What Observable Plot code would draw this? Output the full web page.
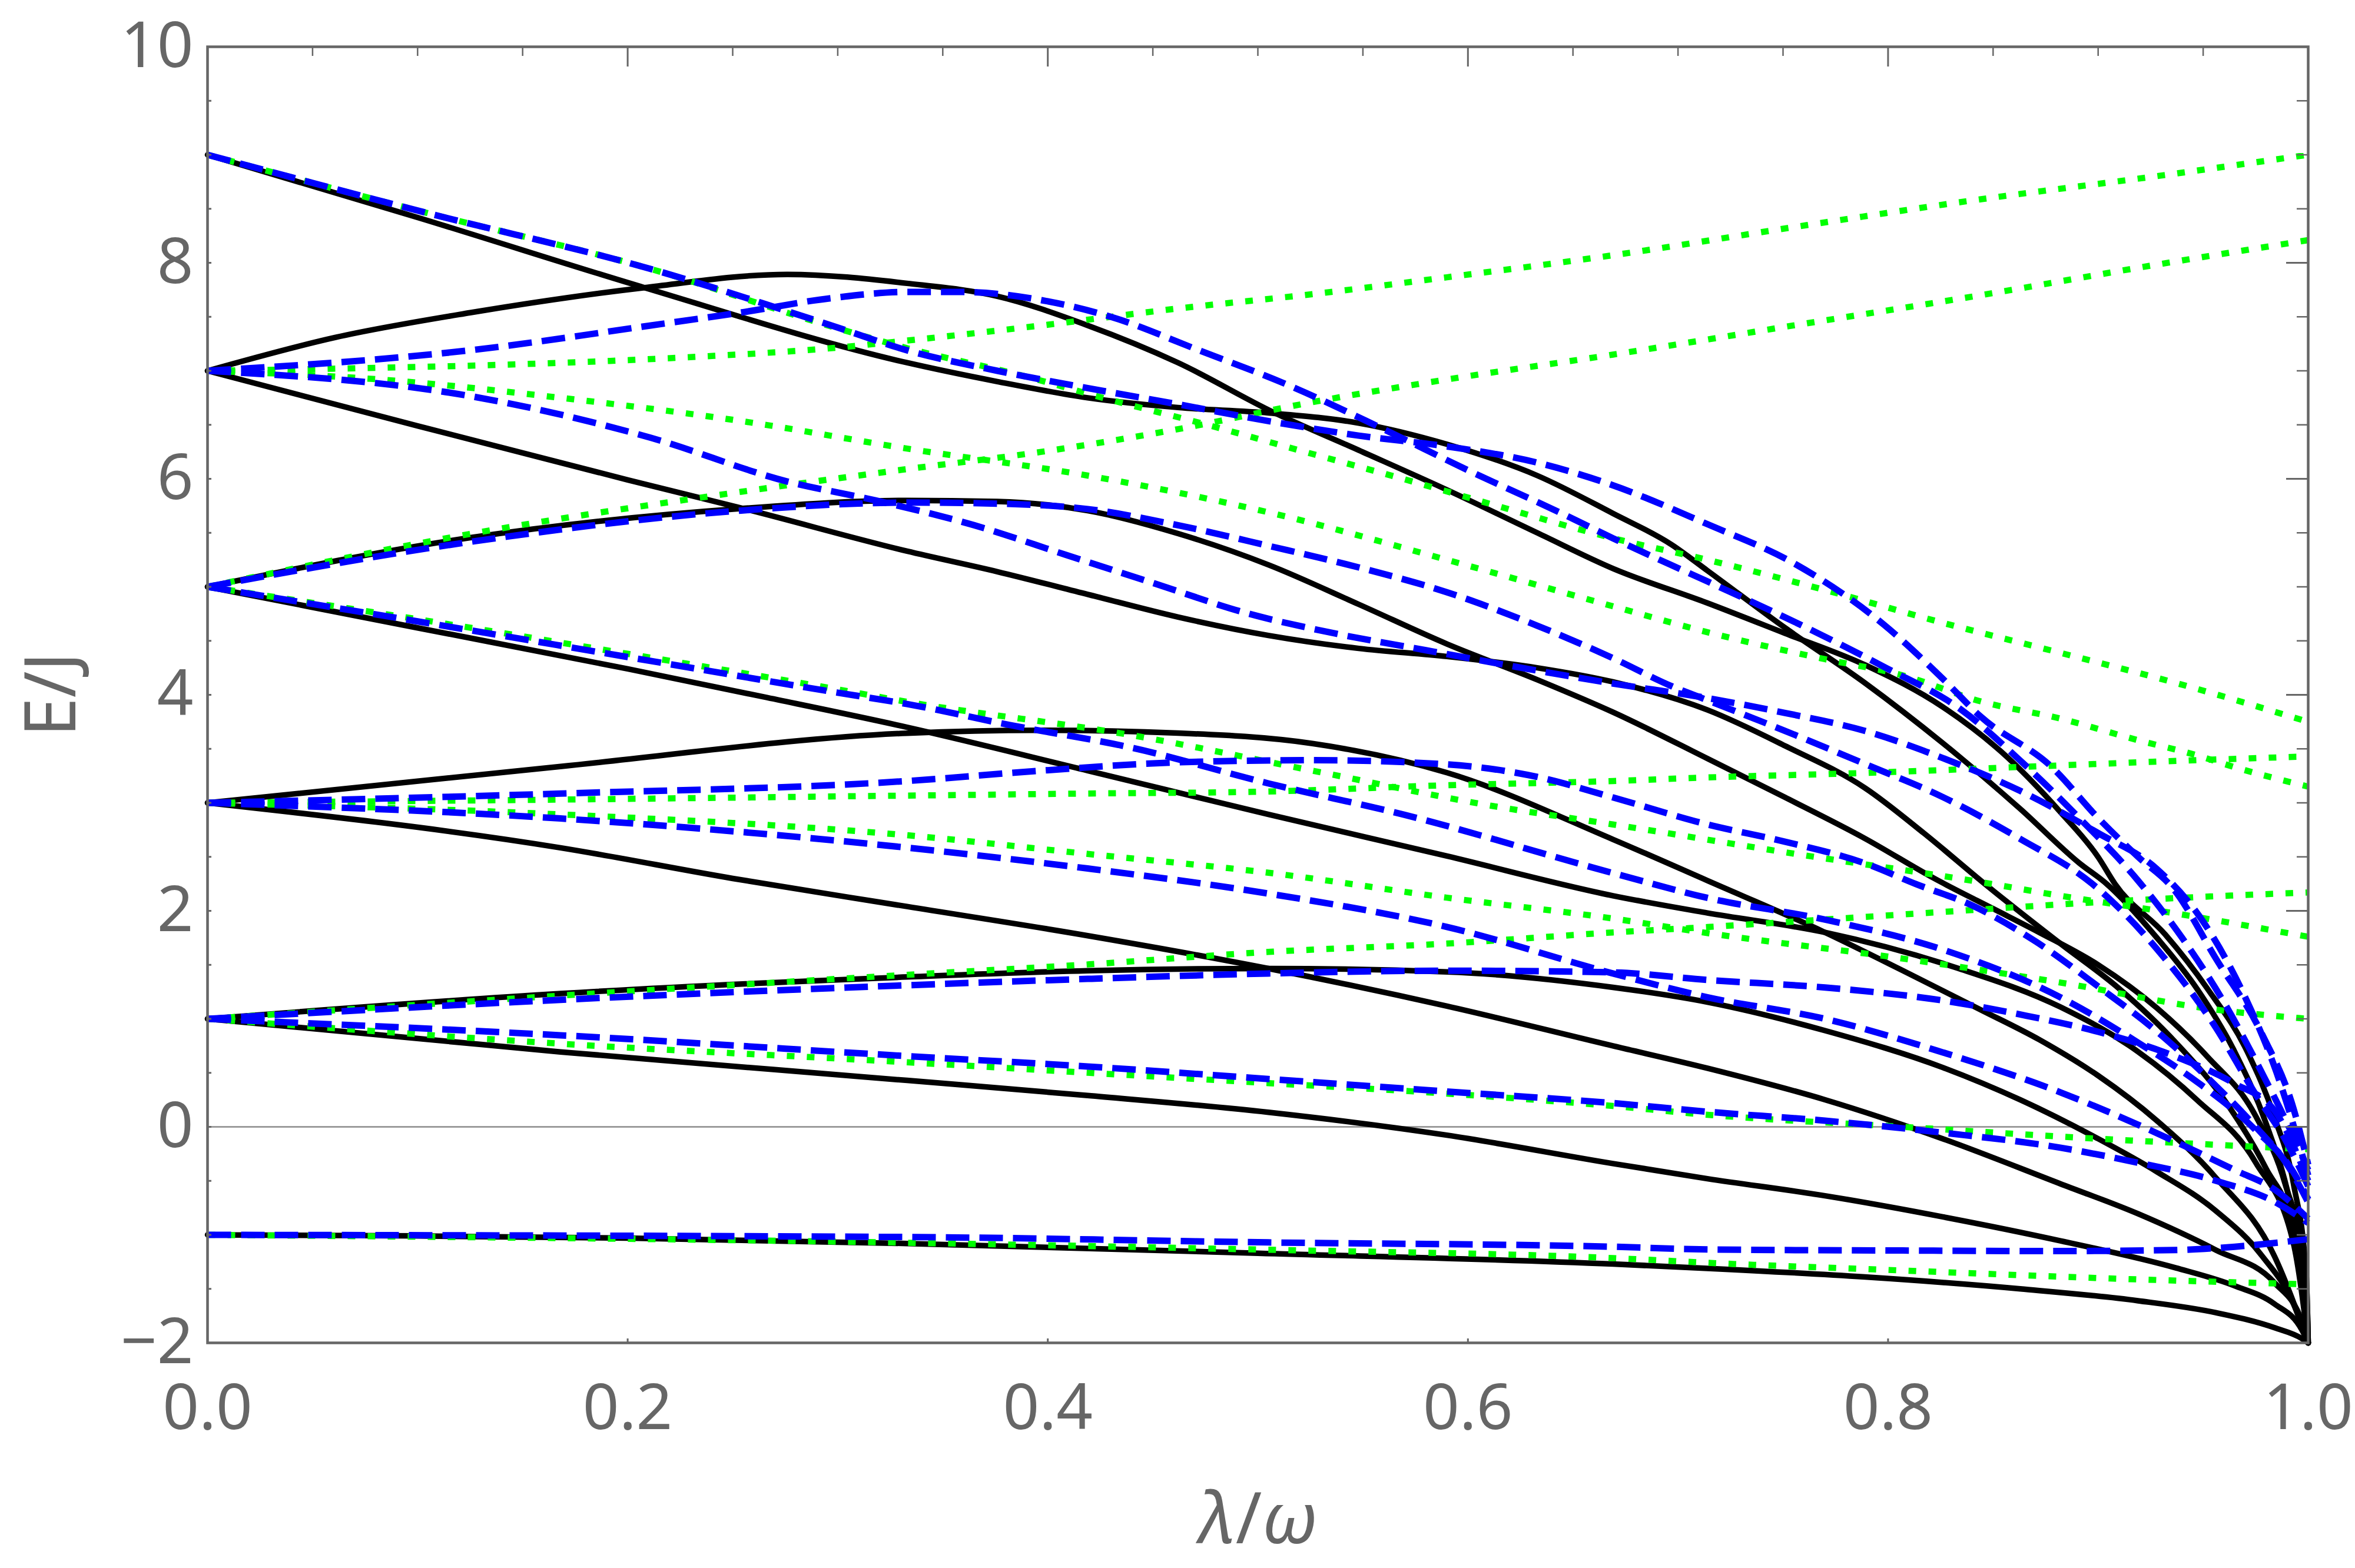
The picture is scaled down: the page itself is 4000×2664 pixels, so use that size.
<!DOCTYPE html>
<html><head><meta charset="utf-8">
<script src="https://cdn.jsdelivr.net/npm/d3@7"></script>
<script src="https://cdn.jsdelivr.net/npm/@observablehq/plot@0.6"></script>
<style>html,body{margin:0;padding:0;background:#fff;}</style>
</head><body><div id="chart"></div>
<script>
// ---- exact spectrum (black, solid) : [lambda/omega, E/J] ----
const K1 = [[0,-1],[0.1,-1.01],[0.2,-1.03],[0.333,-1.08],[0.5,-1.17],[0.669,-1.27],[0.714,-1.31],[0.789,-1.39],[0.863,-1.5],[0.919,-1.61],[0.956,-1.72],[0.984,-1.86],[0.997,-1.96],[1,-2]];
const K2 = [[0,1],[0.168,0.694],[0.333,0.43],[0.419,0.29],[0.505,0.135],[0.59,-0.077],[0.669,-0.34],[0.714,-0.48],[0.77,-0.638],[0.826,-0.833],[0.882,-1.055],[0.937,-1.306],[0.965,-1.472],[0.984,-1.64],[0.997,-1.88],[1,-2]];
const K3 = [[0,1],[0.168,1.234],[0.333,1.388],[0.419,1.446],[0.505,1.466],[0.59,1.435],[0.669,1.292],[0.714,1.155],[0.77,0.891],[0.826,0.55],[0.863,0.25],[0.9,-0.11],[0.928,-0.416],[0.956,-0.777],[0.978,-1.194],[0.993,-1.64],[1,-2]];
const K4 = [[0,3],[0.168,2.584],[0.25,2.3],[0.333,2.04],[0.419,1.77],[0.505,1.466],[0.59,1.118],[0.669,0.75],[0.714,0.543],[0.77,0.251],[0.826,-0.11],[0.882,-0.527],[0.919,-0.805],[0.956,-1.14],[0.984,-1.444],[0.997,-1.8],[1,-2]];
const K5 = [[0,3],[0.168,3.337],[0.333,3.645],[0.397,3.672],[0.462,3.646],[0.526,3.549],[0.59,3.279],[0.669,2.662],[0.714,2.28],[0.77,1.8],[0.807,1.447],[0.844,1.085],[0.872,0.807],[0.9,0.474],[0.928,0.057],[0.956,-0.47],[0.984,-1.2],[1,-2]];
const K6 = [[0,5],[0.1,4.62],[0.2,4.24],[0.265,3.98],[0.333,3.7],[0.419,3.298],[0.505,2.893],[0.59,2.507],[0.669,2.14],[0.714,1.98],[0.77,1.8],[0.833,1.47],[0.882,1.11],[0.919,0.696],[0.947,0.25],[0.975,-0.33],[0.993,-1.08],[1,-2]];
const K7 = [[0,5],[0.125,5.455],[0.254,5.725],[0.333,5.8],[0.376,5.79],[0.419,5.705],[0.462,5.493],[0.505,5.204],[0.548,4.838],[0.59,4.471],[0.633,4.14],[0.669,3.84],[0.714,3.41],[0.751,3.05],[0.789,2.67],[0.822,2.3],[0.85,2.02],[0.872,1.8],[0.9,1.5],[0.928,1.1],[0.952,0.65],[0.975,0.1],[0.989,-0.527],[0.999,-1.36],[1,-2]];
const K8 = [[0,7],[0.1,6.49],[0.2,5.99],[0.258,5.71],[0.333,5.33],[0.376,5.14],[0.419,4.93],[0.462,4.72],[0.505,4.55],[0.548,4.43],[0.59,4.355],[0.633,4.25],[0.669,4.12],[0.714,3.86],[0.751,3.527],[0.789,3.138],[0.817,2.72],[0.846,2.25],[0.882,1.697],[0.91,1.28],[0.937,0.78],[0.962,0.196],[0.98,-0.388],[0.993,-0.944],[1,-2]];
const K9 = [[0,7],[0.061,7.31],[0.125,7.538],[0.208,7.77],[0.276,7.893],[0.333,7.81],[0.376,7.69],[0.419,7.42],[0.462,7.075],[0.507,6.62],[0.548,6.265],[0.59,5.898],[0.633,5.5],[0.669,5.17],[0.714,4.85],[0.751,4.569],[0.789,4.277],[0.826,3.888],[0.854,3.471],[0.882,2.915],[0.9,2.498],[0.908,2.25],[0.932,1.78],[0.952,1.28],[0.971,0.696],[0.984,0.085],[0.993,-0.527],[0.999,-1.36],[1,-2]];
const K10 = [[0,9],[0.1,8.42],[0.208,7.77],[0.333,7.075],[0.376,6.9],[0.419,6.75],[0.462,6.66],[0.505,6.61],[0.548,6.516],[0.59,6.32],[0.633,6.03],[0.669,5.68],[0.697,5.39],[0.714,5.15],[0.751,4.62],[0.789,4.11],[0.826,3.554],[0.863,2.943],[0.891,2.443],[0.904,2.25],[0.928,1.75],[0.947,1.28],[0.965,0.696],[0.98,0.029],[0.991,-0.666],[0.999,-1.5],[1,-2]];

// ---- first approximation (blue, dashed) ----
const B1 = [[0,-1],[0.333,-1.02],[0.505,-1.07],[0.669,-1.11],[0.714,-1.135],[0.807,-1.145],[0.882,-1.15],[0.937,-1.14],[0.965,-1.11],[1,-1.04]];
const B2 = [[0,1],[0.168,0.848],[0.333,0.655],[0.419,0.559],[0.505,0.443],[0.59,0.327],[0.669,0.22],[0.714,0.14],[0.77,0.057],[0.826,-0.054],[0.882,-0.193],[0.919,-0.332],[0.956,-0.499],[0.984,-0.694],[1,-0.89]];
const B3 = [[0,1],[0.168,1.176],[0.333,1.311],[0.419,1.37],[0.505,1.42],[0.59,1.446],[0.669,1.43],[0.714,1.36],[0.77,1.29],[0.826,1.17],[0.863,1.04],[0.9,0.88],[0.937,0.65],[0.965,0.4],[0.984,0.15],[1,-0.5]];
const B4 = [[0,3],[0.168,2.855],[0.333,2.585],[0.419,2.392],[0.505,2.16],[0.59,1.851],[0.669,1.42],[0.714,1.2],[0.77,1.0],[0.826,0.69],[0.882,0.32],[0.927,-0.05],[0.965,-0.4],[0.984,-0.58],[1,-0.85]];
const B5 = [[0,3],[0.168,3.086],[0.333,3.202],[0.397,3.298],[0.462,3.375],[0.526,3.395],[0.59,3.356],[0.633,3.24],[0.669,3.05],[0.714,2.8],[0.751,2.64],[0.789,2.44],[0.813,2.25],[0.84,2.05],[0.87,1.72],[0.9,1.3],[0.93,0.85],[0.955,0.4],[0.975,0.0],[0.99,-0.35],[1,-0.7]];
const B6 = [[0,5],[0.125,5.416],[0.254,5.706],[0.333,5.78],[0.376,5.77],[0.419,5.72],[0.462,5.57],[0.505,5.38],[0.548,5.18],[0.59,4.95],[0.633,4.64],[0.669,4.34],[0.697,4.08],[0.714,3.95],[0.751,3.666],[0.789,3.36],[0.826,3.054],[0.863,2.665],[0.897,2.253],[0.93,1.6],[0.955,0.95],[0.975,0.3],[0.99,-0.15],[1,-0.55]];
const B7 = [[0,5],[0.1,4.68],[0.2,4.35],[0.3,4.02],[0.333,3.915],[0.382,3.72],[0.44,3.51],[0.505,3.18],[0.569,2.893],[0.669,2.35],[0.714,2.12],[0.77,1.919],[0.826,1.641],[0.882,1.2],[0.919,0.78],[0.947,0.418],[0.975,-0.03],[0.993,-0.42],[1,-0.67]];
const B8 = [[0,9],[0.104,8.464],[0.211,7.943],[0.297,7.42],[0.333,7.19],[0.376,7.0],[0.419,6.84],[0.462,6.69],[0.505,6.535],[0.548,6.4],[0.59,6.3],[0.633,6.15],[0.669,5.94],[0.714,5.58],[0.755,5.22],[0.798,4.65],[0.826,4.15],[0.844,3.8],[0.878,3.33],[0.9,2.86],[0.919,2.5],[0.936,2.2],[0.956,1.56],[0.978,0.86],[0.993,0.17],[1,-0.35]];
const B9 = [[0,7],[0.125,7.19],[0.211,7.42],[0.254,7.54],[0.297,7.673],[0.333,7.73],[0.359,7.73],[0.397,7.654],[0.43,7.5],[0.472,7.19],[0.515,6.863],[0.558,6.477],[0.601,6.07],[0.644,5.686],[0.669,5.45],[0.714,5.05],[0.755,4.68],[0.798,4.26],[0.835,3.86],[0.863,3.39],[0.891,2.86],[0.919,2.28],[0.94,1.75],[0.96,1.15],[0.978,0.5],[0.992,-0.05],[1,-0.4]];
const B10 = [[0,7],[0.125,6.766],[0.211,6.38],[0.276,5.975],[0.318,5.8],[0.365,5.57],[0.408,5.3],[0.451,5.03],[0.494,4.76],[0.537,4.567],[0.58,4.413],[0.623,4.259],[0.669,4.105],[0.714,3.97],[0.751,3.832],[0.789,3.666],[0.826,3.415],[0.863,3.11],[0.9,2.72],[0.928,2.387],[0.95,1.9],[0.97,1.2],[0.985,0.5],[1,-0.45]];

// ---- second approximation (green, dotted) ----
const G1 = [[0,7],[0.061,7.02],[0.147,7.06],[0.233,7.13],[0.297,7.21],[0.333,7.28],[0.397,7.42],[0.462,7.577],[0.526,7.71],[0.59,7.866],[0.669,8.07],[0.755,8.33],[0.841,8.58],[0.927,8.8],[1,9.0]];
const G2 = [[0,5],[0.125,5.49],[0.254,5.88],[0.333,6.09],[0.397,6.25],[0.462,6.46],[0.526,6.71],[0.59,6.92],[0.669,7.15],[0.755,7.42],[0.841,7.69],[0.927,7.98],[1,8.21]];
const G3 = [[0,9],[0.104,8.464],[0.211,7.943],[0.297,7.41],[0.333,7.21],[0.387,6.96],[0.43,6.73],[0.472,6.52],[0.526,6.23],[0.569,6.0],[0.612,5.76],[0.669,5.45],[0.714,5.25],[0.77,4.97],[0.826,4.667],[0.882,4.389],[0.937,4.11],[1,3.75]];
const G4 = [[0,7],[0.082,6.92],[0.168,6.75],[0.254,6.535],[0.333,6.28],[0.419,6.03],[0.505,5.69],[0.59,5.25],[0.669,4.82],[0.714,4.58],[0.77,4.33],[0.807,4.18],[0.844,3.94],[0.882,3.78],[0.919,3.58],[0.947,3.44],[0.965,3.33],[1,3.15]];
const G5 = [[0,3],[0.168,3.03],[0.333,3.067],[0.419,3.086],[0.505,3.105],[0.59,3.163],[0.669,3.202],[0.714,3.235],[0.789,3.277],[0.863,3.332],[0.937,3.388],[1,3.43]];
const G6 = [[0,3],[0.168,2.893],[0.333,2.7],[0.419,2.527],[0.505,2.353],[0.59,2.122],[0.669,1.929],[0.714,1.794],[0.807,1.558],[0.882,1.336],[0.956,1.085],[1,1.0]];
const G7 = [[0,1],[0.168,1.215],[0.333,1.408],[0.419,1.504],[0.505,1.62],[0.59,1.697],[0.669,1.8],[0.714,1.85],[0.77,1.92],[0.826,1.99],[0.9,2.08],[0.95,2.13],[1,2.17]];
const G8 = [[0,5],[0.1,4.7],[0.2,4.38],[0.3,4.05],[0.333,3.935],[0.44,3.626],[0.526,3.298],[0.612,2.97],[0.669,2.8],[0.755,2.53],[0.841,2.276],[0.882,2.14],[0.937,1.975],[1,1.76]];
const G9 = [[0,1],[0.168,0.77],[0.333,0.598],[0.419,0.501],[0.505,0.405],[0.59,0.308],[0.669,0.193],[0.714,0.112],[0.807,0.0],[0.9,-0.11],[0.956,-0.166],[1,-0.207]];
const G10 = [[0,-1],[0.333,-1.073],[0.505,-1.138],[0.669,-1.215],[0.72,-1.264],[0.807,-1.33],[0.9,-1.4],[1,-1.458]];

// ---- ticks ----
const xTicks = [0, 0.2, 0.4, 0.6, 0.8, 1.0];
const yTicks = [-2, 0, 2, 4, 6, 8, 10];
const xMinorStep = 0.05;
const yMinorStep = 0.5;

const blackSeries = [K1,K2,K3,K4,K5,K6,K7,K8,K9,K10];
const blueSeries = [B1,B2,B3,B4,B5,B6,B7,B8,B9,B10];
const greenSeries = [G1,G2,G3,G4,G5,G6,G7,G8,G9,G10];

function toRows(list, tag) {
  return list.flatMap((pts, i) => pts.map(([lam, E]) => ({lam, E, id: tag + i})));
}
const blackRows = toRows(blackSeries, "k");
const blueRows = toRows(blueSeries, "b");
const greenRows = toRows(greenSeries, "g");

// layout
const W = 4000, H = 2664;
const mL = 352, mR = 80, mT = 79, mB = 383;
const innerW = W - mL - mR, innerH = H - mT - mB;
const xDom = [0, 1], yDom = [-2, 10];
const dx = px => px * (xDom[1] - xDom[0]) / innerW;   // pixel length -> x units
const dy = px => px * (yDom[1] - yDom[0]) / innerH;   // pixel length -> y units

const xMinor = d3.range(xDom[0], xDom[1] + 1e-9, xMinorStep).filter(v => !xTicks.some(t => Math.abs(t - v) < 1e-9));
const yMinor = d3.range(yDom[0], yDom[1] + 1e-9, yMinorStep).filter(v => !yTicks.some(t => Math.abs(t - v) < 1e-9));
const yAllLeft = d3.range(yDom[0], yDom[1] + 1e-9, yMinorStep);

const fmtY = d => d < 0 ? "\u2212" + Math.abs(d) : String(d);
const gray = "#666666";
const font = "'Noto Sans', 'DejaVu Sans', sans-serif";
const chart = Plot.plot({
  width: W, height: H,
  marginLeft: mL, marginRight: mR, marginTop: mT, marginBottom: mB,
  x: {domain: xDom},
  y: {domain: yDom},
  style: {fontFamily: font, fontSize: "108px", color: gray, background: "#ffffff"},
  marks: [
    Plot.ruleY([0], {stroke: "#8a8a8a", strokeWidth: 2.5}),
    Plot.line(blackRows, {x: "lam", y: "E", z: "id", stroke: "#000000", strokeWidth: 9.5, curve: "monotone-x", strokeLinejoin: "round"}),
    Plot.line(greenRows, {x: "lam", y: "E", z: "id", stroke: "#00ff00", strokeWidth: 10.5, curve: "monotone-x", strokeDasharray: "13,21", strokeLinecap: "butt"}),
    Plot.line(blueRows, {x: "lam", y: "E", z: "id", stroke: "#0000ff", strokeWidth: 11, curve: "monotone-x", strokeDasharray: "40,17", strokeLinecap: "butt"}),
    // top ticks (inward)
    Plot.ruleX(xTicks, {x: d => d, y1: yDom[1], y2: yDom[1] - dy(34), stroke: gray, strokeWidth: 3}),
    Plot.ruleX(xMinor, {x: d => d, y1: yDom[1], y2: yDom[1] - dy(16), stroke: gray, strokeWidth: 2.5}),
    // right ticks (inward)
    Plot.ruleY(yTicks, {y: d => d, x1: xDom[1], x2: xDom[1] - dx(37), stroke: gray, strokeWidth: 3}),
    Plot.ruleY(yMinor, {y: d => d, x1: xDom[1], x2: xDom[1] - dx(19), stroke: gray, strokeWidth: 2.5}),
    // tiny left / bottom ticks
    Plot.ruleY(yAllLeft, {y: d => d, x1: xDom[0], x2: xDom[0] + dx(7), stroke: gray, strokeWidth: 3}),
    Plot.ruleX(xTicks, {x: d => d, y1: yDom[0], y2: yDom[0] + dy(7), stroke: gray, strokeWidth: 3}),
    Plot.frame({stroke: gray, strokeWidth: 4.5}),
    Plot.axisX(xTicks, {tickSize: 0, tickPadding: 70, tickFormat: d3.format(".1f"), label: null, fontSize: 108}),
    Plot.axisY(yTicks, {tickSize: 0, tickPadding: 24, tickFormat: fmtY, label: null, fontSize: 108})
  ]
});

const svg = d3.select(chart);
const xl = svg.append("text")
  .attr("x", mL + innerW / 2).attr("y", 2622)
  .attr("text-anchor", "middle").attr("font-size", 120).attr("fill", gray)
  .attr("font-family", font);
xl.append("tspan").attr("font-style", "italic").text("λ");
xl.append("tspan").text("/");
xl.append("tspan").attr("font-style", "italic").text("ω");
svg.append("text")
  .attr("transform", `translate(128,${mT + innerH / 2}) rotate(-90)`)
  .attr("text-anchor", "middle").attr("font-size", 120).attr("fill", gray)
  .attr("font-family", font)
  .text("E/J");

document.getElementById("chart").appendChild(chart);
</script>
</body></html>
